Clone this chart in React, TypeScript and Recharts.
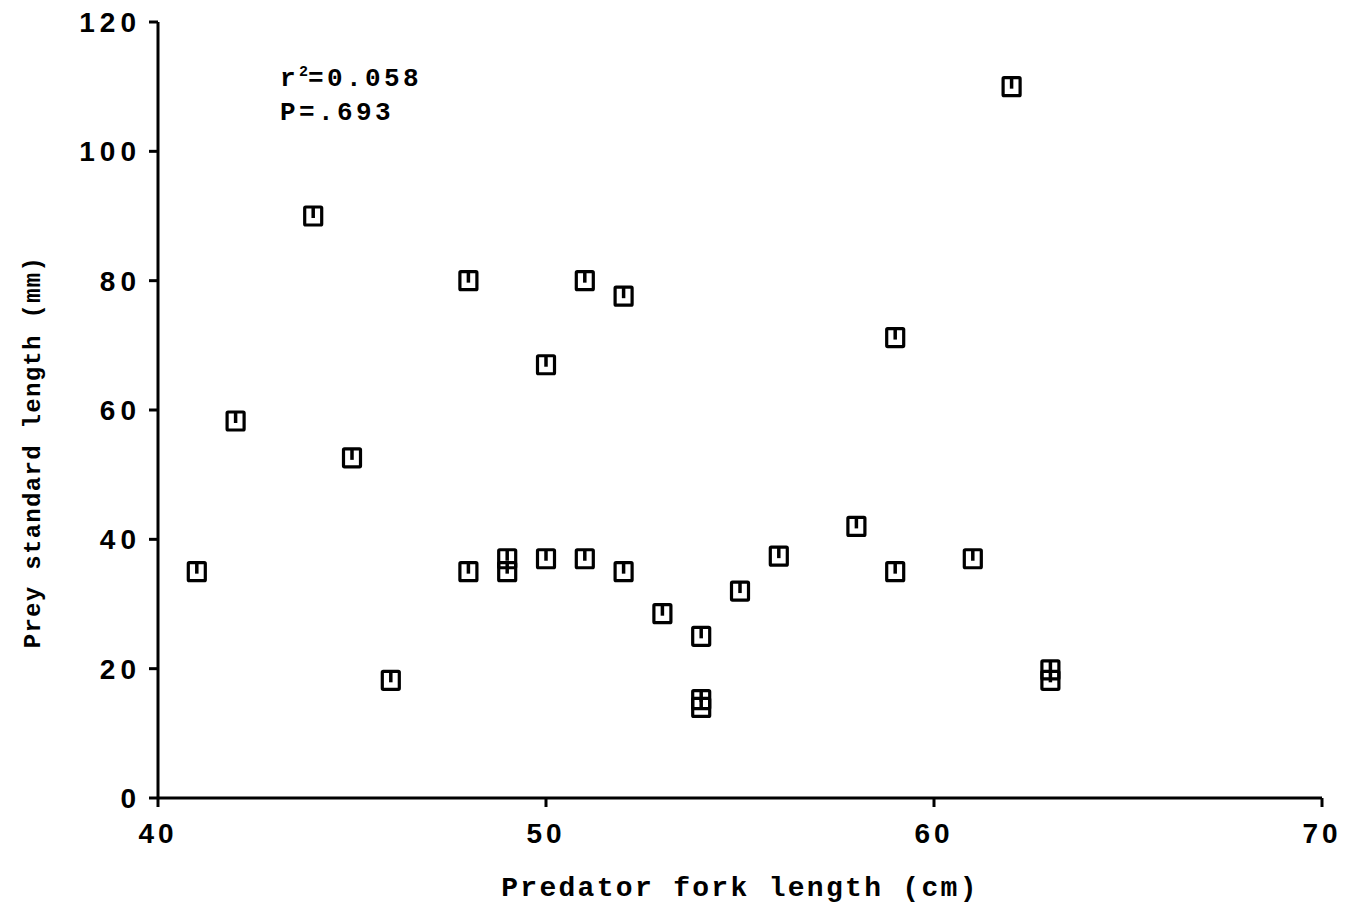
import { ScatterChart, Scatter, XAxis, YAxis } from "recharts"

// predator fork length (cm) vs prey standard length (mm)
const predatorLength = [41, 42, 44, 45, 46, 48, 48, 49, 49, 50, 50, 51, 51, 52, 52, 53, 54, 54, 54, 55, 56, 58, 59, 59, 61, 62, 63, 63]
const preyLength = [35, 58.3, 90, 52.6, 18.2, 80, 35, 37, 35, 67, 37, 80, 37, 77.6, 35, 28.5, 25, 15.2, 14, 32, 37.4, 42, 71.2, 35, 37, 110, 19.8, 18.2]

const xTicks = [40, 50, 60, 70]
const yTicks = [0, 20, 40, 60, 80, 100, 120]

const data = predatorLength.map((x, i) => ({ x, y: preyLength[i] }))

const monoFont = "'Liberation Mono', 'DejaVu Sans Mono', monospace"
const tickFont = "'Liberation Sans', Arial, sans-serif"

const SquareMarker = (props: any) => {
    const { cx, cy } = props
    if (cx == null || cy == null) return null
    const w = 17
    const h = 18
    return (
        <g>
            <rect x={cx - w / 2} y={cy - h / 2} width={w} height={h} fill="none" stroke="#000" strokeWidth={3.2} rx={1} />
            <line x1={cx} y1={cy - h / 2} x2={cx} y2={cy + 2} stroke="#000" strokeWidth={3.5} />
        </g>
    )
}

export default function App() {
    return (
        <div style={{ position: "absolute", left: 0, top: 0, width: 1346, height: 904, background: "#fff" }}>
            <ScatterChart width={1346} height={904} margin={{ top: 22, right: 24, left: 0, bottom: 0 }}>
                <XAxis
                    type="number"
                    dataKey="x"
                    domain={[40, 70]}
                    ticks={xTicks}
                    height={106}
                    stroke="#000"
                    strokeWidth={3}
                    tickSize={9}
                    tick={{ fill: "#000", fontSize: 28, fontWeight: "bold", fontFamily: tickFont, letterSpacing: 4 }}
                    tickMargin={16}
                    label={{
                        value: "Predator fork length (cm)",
                        position: "insideBottom",
                        offset: 8,
                        fill: "#000",
                        fontSize: 28,
                        fontWeight: "bold",
                        fontFamily: monoFont,
                        letterSpacing: 2.3,
                    }}
                />
                <YAxis
                    type="number"
                    dataKey="y"
                    domain={[0, 120]}
                    ticks={yTicks}
                    width={158}
                    stroke="#000"
                    strokeWidth={3}
                    tickSize={9}
                    tickMargin={8}
                    tick={{ fill: "#000", fontSize: 28, fontWeight: "bold", fontFamily: tickFont, letterSpacing: 5 }}
                />
                <Scatter data={data} shape={SquareMarker} isAnimationActive={false} />
            </ScatterChart>
            <svg width={1346} height={904} style={{ position: "absolute", left: 0, top: 0, pointerEvents: "none" }}>
                <text
                    x={0}
                    y={0}
                    transform="translate(40 452) rotate(-90)"
                    textAnchor="middle"
                    fontFamily={monoFont}
                    fontSize={24}
                    fontWeight="bold"
                    letterSpacing={1.3}
                    fill="#000"
                >
                    Prey standard length (mm)
                </text>
            </svg>
            <div
                style={{
                    position: "absolute",
                    left: 280,
                    top: 62,
                    fontFamily: monoFont,
                    fontSize: 26,
                    fontWeight: "bold",
                    letterSpacing: 3.4,
                    lineHeight: "34px",
                    color: "#000",
                }}
            >
                <div>
                    r<sup style={{ fontSize: 15, letterSpacing: 0, verticalAlign: "10px", lineHeight: 0 }}>2</sup>=0.058
                </div>
                <div>P=.693</div>
            </div>
        </div>
    )
}
